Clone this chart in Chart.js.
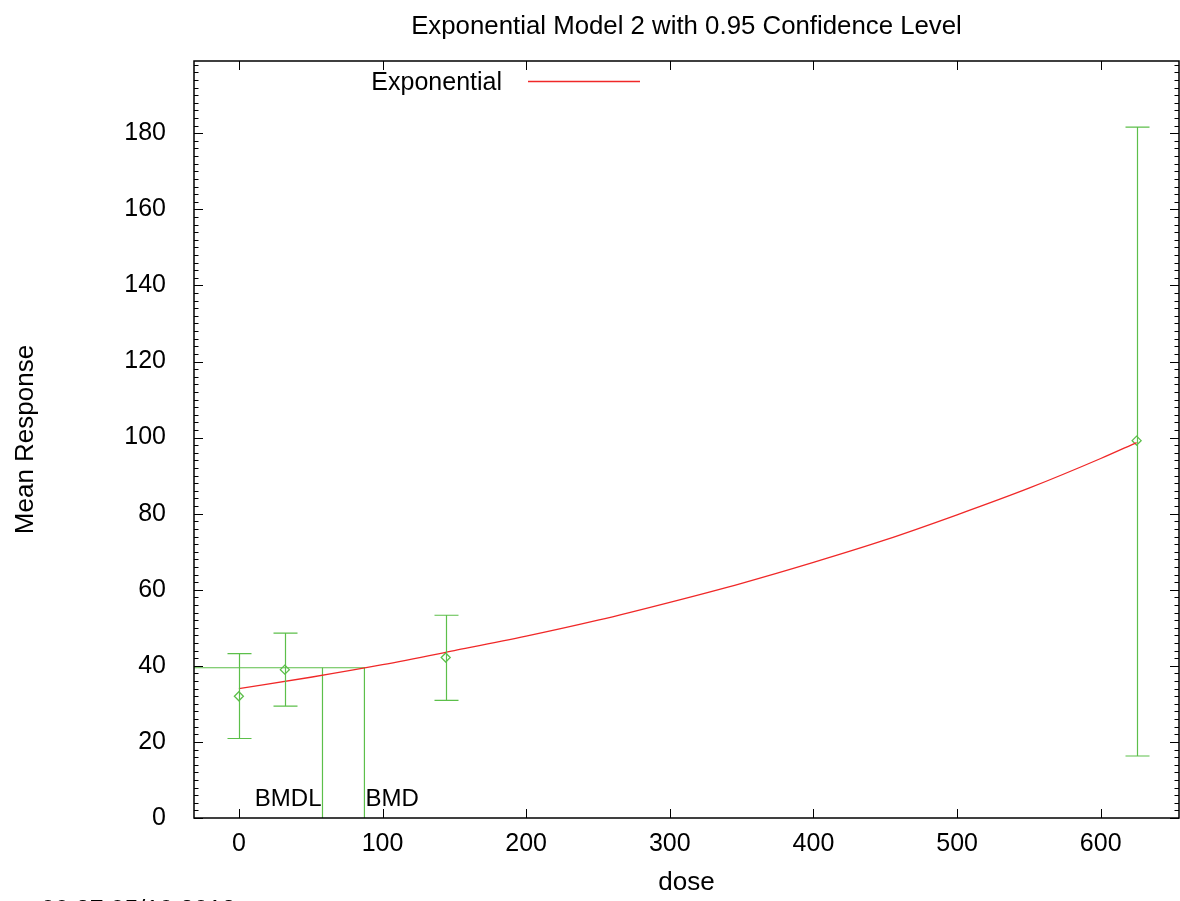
<!DOCTYPE html>
<html>
<head>
<meta charset="utf-8">
<title>Exponential Model 2 with 0.95 Confidence Level</title>
<script src="https://cdn.jsdelivr.net/npm/chart.js@4.4.0/dist/chart.umd.min.js"></script>
<style>
  html, body { margin: 0; padding: 0; background: #fff; }
  canvas { display: block; }
</style>
</head>
<body>
<canvas id="bmdChart" width="1180" height="901"></canvas>
<script>
// observed group means with their 95% bounds
const doses = [0, 32, 144, 625];
const meanResponse = [32.0, 39.0, 42.2, 99.2];
const lowerBound = [20.9, 29.4, 30.9, 16.3];
const upperBound = [43.2, 48.6, 53.3, 181.6];

// fitted exponential curve
const fitDoses = [0, 50, 100, 150, 200, 250, 300, 350, 400, 450, 500, 550, 600, 625];
const fitResponse = [34.0, 37.0, 40.3, 44.0, 47.8, 52.0, 56.7, 61.7, 67.2, 73.1, 79.7, 86.7, 94.5, 98.7];

const bmd = 87.4;
const bmdl = 58.2;
const bmdResponse = 39.5;

const xTicks = [0, 100, 200, 300, 400, 500, 600];
const yTicks = [0, 20, 40, 60, 80, 100, 120, 140, 160, 180];
const yMinorStep = 2;
const xRange = [-31.25, 654.5];
const yRange = [0, 199];

const FONT = '"Liberation Sans", Arial, Helvetica, sans-serif';
const GREEN = '#5cbf4a';
const RED = '#f02828';

const toPoints = (xs, ys) => xs.map((x, i) => ({ x: x, y: ys[i] }));

// frame, inward ticks, text bits gnuplot puts around the plot
const gnuplotDecor = {
  id: 'gnuplotDecor',
  afterDatasetsDraw(chart) {
    const { ctx, chartArea: a, scales: { x, y } } = chart;
    ctx.save();

    // error bars
    ctx.strokeStyle = GREEN;
    ctx.lineWidth = 1.2;
    doses.forEach((d, i) => {
      const px = Math.round(x.getPixelForValue(d)) + 0.5;
      const lo = y.getPixelForValue(lowerBound[i]);
      const hi = y.getPixelForValue(upperBound[i]);
      ctx.beginPath();
      ctx.moveTo(px, lo); ctx.lineTo(px, hi);
      ctx.moveTo(px - 12, lo); ctx.lineTo(px + 12, lo);
      ctx.moveTo(px - 12, hi); ctx.lineTo(px + 12, hi);
      ctx.stroke();
    });

    // border
    ctx.strokeStyle = '#000';
    ctx.lineWidth = 1.5;
    ctx.strokeRect(a.left, a.top, a.right - a.left, a.bottom - a.top);

    // ticks pointing inward
    ctx.lineWidth = 1;
    ctx.beginPath();
    xTicks.forEach(v => {
      const px = Math.round(x.getPixelForValue(v)) + 0.5;
      ctx.moveTo(px, a.bottom); ctx.lineTo(px, a.bottom - 9);
      ctx.moveTo(px, a.top); ctx.lineTo(px, a.top + 9);
    });
    for (let v = 0; v <= yRange[1]; v += yMinorStep) {
      const py = Math.round(y.getPixelForValue(v)) + 0.5;
      const len = yTicks.includes(v) ? 9 : 4.5;
      ctx.moveTo(a.left, py); ctx.lineTo(a.left + len, py);
      ctx.moveTo(a.right, py); ctx.lineTo(a.right - len, py);
    }
    ctx.stroke();

    ctx.fillStyle = '#000';
    ctx.font = '24px ' + FONT;
    ctx.textBaseline = 'alphabetic';
    ctx.textAlign = 'right';
    ctx.fillText('BMDL', x.getPixelForValue(bmdl) - 1, y.getPixelForValue(3.1));
    ctx.textAlign = 'left';
    ctx.fillText('BMD', x.getPixelForValue(bmd) + 1, y.getPixelForValue(3.1));

    // title
    ctx.font = '25.8px ' + FONT;
    ctx.textAlign = 'center';
    ctx.fillText('Exponential Model 2 with 0.95 Confidence Level', (a.left + a.right) / 2, 34);

    // key
    ctx.font = '25px ' + FONT;
    ctx.textAlign = 'right';
    ctx.fillText('Exponential', 502, 90);
    ctx.strokeStyle = RED;
    ctx.lineWidth = 1.3;
    ctx.beginPath();
    ctx.moveTo(528, 81.5); ctx.lineTo(640, 81.5);
    ctx.stroke();

    // time stamp, mostly cut by the bottom edge
    ctx.fillStyle = '#000';
    ctx.textAlign = 'left';
    ctx.fillText('09:27 05/10 2013', 41, 918);

    ctx.restore();
  }
};

new Chart(document.getElementById('bmdChart'), {
  type: 'scatter',
  data: {
    datasets: [
      {
        label: 'Exponential',
        data: toPoints(fitDoses, fitResponse),
        showLine: true,
        borderColor: RED,
        borderWidth: 1.3,
        pointRadius: 0,
        cubicInterpolationMode: 'monotone'
      },
      {
        label: 'BMD',
        data: [{ x: xRange[0], y: bmdResponse }, { x: bmd, y: bmdResponse }, { x: bmd, y: 0 }],
        showLine: true,
        borderColor: GREEN,
        borderWidth: 1.2,
        pointRadius: 0
      },
      {
        label: 'BMDL',
        data: [{ x: bmdl, y: bmdResponse }, { x: bmdl, y: 0 }],
        showLine: true,
        borderColor: GREEN,
        borderWidth: 1.2,
        pointRadius: 0
      },
      {
        label: 'Data',
        data: toPoints(doses, meanResponse),
        pointStyle: 'rectRot',
        pointRadius: 4.5,
        borderColor: GREEN,
        borderWidth: 1.3,
        backgroundColor: 'rgba(255,255,255,0)'
      }
    ]
  },
  options: {
    responsive: false,
    animation: false,
    events: [],
    layout: { autoPadding: false, padding: { top: 61, right: 1, bottom: 0, left: 0 } },
    plugins: {
      legend: { display: false },
      tooltip: { enabled: false },
      title: { display: false }
    },
    scales: {
      x: {
        type: 'linear',
        min: xRange[0],
        max: xRange[1],
        grid: { display: false, drawTicks: false },
        border: { display: false },
        afterBuildTicks: s => { s.ticks = xTicks.map(v => ({ value: v })); },
        afterFit: s => { s.height = 83; s.paddingLeft = 0; s.paddingRight = 0; },
        ticks: {
          color: '#000',
          padding: 11,
          maxRotation: 0,
          autoSkip: false,
          font: { family: FONT, size: 25 }
        },
        title: {
          display: true,
          text: 'dose',
          color: '#000',
          padding: { top: 0, bottom: 3 },
          font: { family: FONT, size: 26 }
        }
      },
      y: {
        type: 'linear',
        min: yRange[0],
        max: yRange[1],
        grid: { display: false, drawTicks: false },
        border: { display: false },
        afterBuildTicks: s => { s.ticks = yTicks.map(v => ({ value: v })); },
        afterFit: s => { s.width = 194; s.paddingTop = 0; s.paddingBottom = 0; },
        ticks: {
          color: '#000',
          padding: 28,
          autoSkip: false,
          font: { family: FONT, size: 25 }
        },
        title: {
          display: true,
          text: 'Mean Response',
          color: '#000',
          padding: { top: 10, bottom: 0 },
          font: { family: FONT, size: 26 }
        }
      }
    }
  },
  plugins: [gnuplotDecor]
});
</script>
</body>
</html>
